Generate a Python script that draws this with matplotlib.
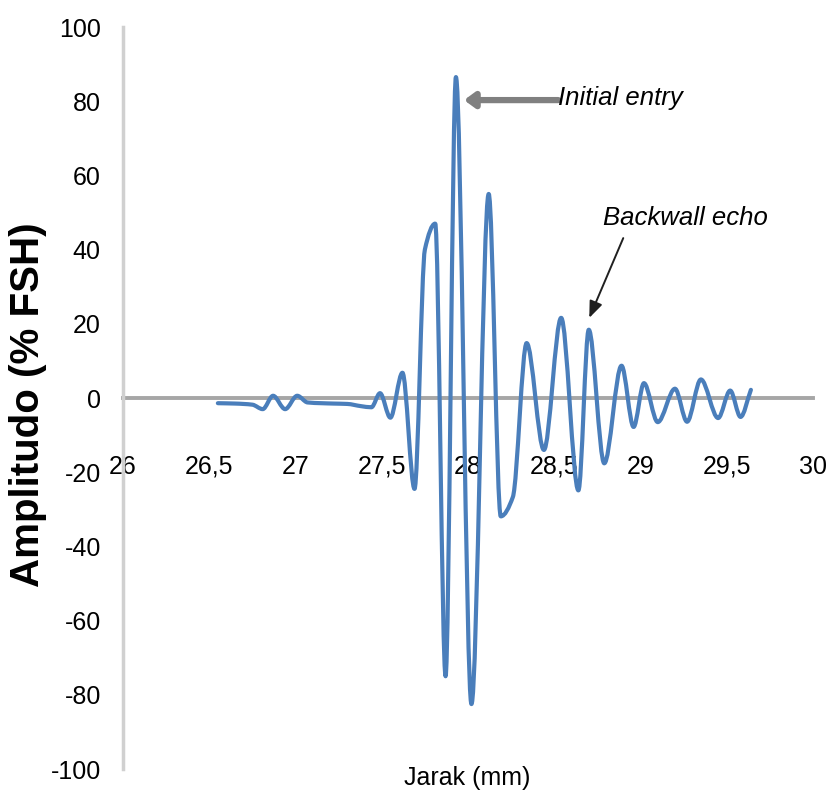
import matplotlib
matplotlib.use("Agg")
import matplotlib.pyplot as plt
from matplotlib.path import Path
from matplotlib.patches import PathPatch
import numpy as np

# ---- data (x in mm, amplitude in % FSH) ----
jarak = [26.55, 26.65, 26.75, 26.81, 26.87, 26.94, 27.01, 27.07, 27.15, 27.22,
         27.30, 27.38, 27.44, 27.49, 27.55, 27.62, 27.69, 27.75, 27.81, 27.87,
         27.93, 28.02, 28.12, 28.19, 28.26, 28.34, 28.44, 28.54, 28.64, 28.70,
         28.79, 28.89, 28.96, 29.02, 29.10, 29.20, 29.27, 29.35, 29.45, 29.52,
         29.58, 29.64]
amplitudo = [-1.4, -1.5, -1.8, -3.0, 0.6, -3.0, 0.6, -1.2, -1.4, -1.5,
             -1.6, -2.2, -2.5, 1.3, -5.3, 6.8, -24.5, 40.0, 47.0, -75.0,
             86.5, -82.5, 55.0, -31.9, -26.7, 14.8, -14.0, 21.6, -24.9, 18.4,
             -17.6, 8.7, -7.8, 4.0, -6.5, 2.5, -6.4, 5.0, -5.4, 2.0,
             -5.1, 2.2]

x_ticks = [26, 26.5, 27, 27.5, 28, 28.5, 29, 29.5, 30]
x_ticklabels = ["26", "26,5", "27", "27,5", "28", "28,5", "29", "29,5", "30"]
y_ticks = [-100, -80, -60, -40, -20, 0, 20, 40, 60, 80, 100]

initial_entry_xy = (27.977, 80.3)
backwall_xy = (28.703, 21.6)

FONT = ["Liberation Sans Narrow", "Liberation Sans", "DejaVu Sans"]
LINE_BLUE = "#4a7ebb"

fig = plt.figure(figsize=(8.29, 8.01), dpi=100)
ax = fig.add_axes([0.14837, 0.03995, 0.83233, 0.92634])
ax.set_xlim(26, 30)
ax.set_ylim(-100, 100)

# smoothed line (Excel-style smoothing rendered as cubic Bezier path)
xs = np.asarray(jarak, float)
ys = np.asarray(amplitudo, float)
n = len(xs)
h = np.diff(xs)
d = np.diff(ys) / h
m = np.zeros(n)
m[0] = d[0]
m[-1] = d[-1]
for i in range(1, n - 1):
    if d[i - 1] * d[i] <= 0:
        m[i] = 0.0
    else:
        w1 = 2 * h[i] + h[i - 1]
        w2 = h[i] + 2 * h[i - 1]
        m[i] = (w1 + w2) / (w1 / d[i - 1] + w2 / d[i])
verts = [(xs[0], ys[0])]
codes = [Path.MOVETO]
for i in range(n - 1):
    dx = h[i] / 3.0
    verts += [(xs[i] + dx, ys[i] + m[i] * dx),
              (xs[i + 1] - dx, ys[i + 1] - m[i + 1] * dx),
              (xs[i + 1], ys[i + 1])]
    codes += [Path.CURVE4] * 3
ax.add_patch(PathPatch(Path(verts, codes), fill=False, edgecolor=LINE_BLUE,
                       lw=3.0, capstyle="round", joinstyle="round", zorder=3))

# axes styling
for s in ["top", "right"]:
    ax.spines[s].set_visible(False)
ax.spines["left"].set_color("#d0d0d0")
ax.spines["left"].set_linewidth(2.5)
ax.spines["bottom"].set_position(("data", 0))
ax.spines["bottom"].set_color("#a6a6a6")
ax.spines["bottom"].set_linewidth(2.8)
ax.spines["bottom"].set_zorder(1)

ax.set_xticks(x_ticks)
ax.set_xticklabels(x_ticklabels)
ax.set_yticks(y_ticks)
ax.set_yticklabels([str(v) for v in y_ticks])
ax.tick_params(axis="x", length=0, pad=41)
ax.tick_params(axis="y", length=0, pad=16)
for lab in ax.get_xticklabels() + ax.get_yticklabels():
    lab.set_family(FONT)
    lab.set_fontsize(18)
    lab.set_color("black")

ax.set_ylabel("Amplitudo (% FSH)", family=["Liberation Sans", "DejaVu Sans"],
              fontsize=29, fontweight="bold", va="center")
ax.yaxis.set_label_coords(-0.137, 0.491)
ax.set_xlabel("Jarak (mm)", family=FONT, fontsize=18, va="center")
ax.xaxis.set_label_coords(0.4986, -0.012)

# annotations
ax.annotate("", xy=initial_entry_xy, xytext=(28.523, 80.3),
            arrowprops=dict(arrowstyle="-|>,head_length=0.3,head_width=0.22",
                            color="#808080", lw=4.5, mutation_scale=20,
                            shrinkA=0, shrinkB=0))
ax.text(28.522, 79.0, "Initial entry", family=FONT, style="italic",
        fontsize=18.5, ha="left", va="baseline")

ax.annotate("", xy=backwall_xy, xytext=(28.90, 43.1),
            arrowprops=dict(arrowstyle="-|>,head_length=0.5,head_width=0.2",
                            color="#202020", lw=1.4, mutation_scale=20,
                            shrinkA=0, shrinkB=0))
ax.text(28.783, 46.6, "Backwall echo", family=FONT, style="italic",
        fontsize=18.5, ha="left", va="baseline")

fig.savefig("out.png", dpi=100)
